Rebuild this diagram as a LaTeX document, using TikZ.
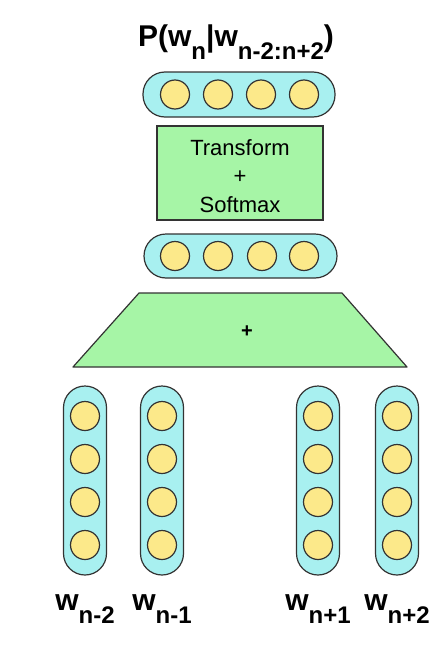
\documentclass[tikz,border=0pt]{standalone}
\usepackage{fontspec}
\setmainfont{Liberation Sans}
\begin{document}
\begin{tikzpicture}[x=1pt,y=-1pt,
  pill/.style={draw=black!80, line width=1.2pt, fill=pillcyan},
  unit/.style={circle, draw=black!80, line width=1.2pt, fill=unityellow, minimum size=29pt, inner sep=0pt},
  layer/.style={draw=black!80, line width=1.2pt, fill=layergreen},
  bigtxt/.style={inner sep=0pt, anchor=base},
]
\definecolor{pillcyan}{HTML}{A8F0F0}
\definecolor{unityellow}{HTML}{FCE98A}
\definecolor{layergreen}{HTML}{A6F5A6}
\useasboundingbox (0,0) rectangle (442,645);
\fill[white] (0,0) rectangle (442,645);

% title
\node[bigtxt] (title) at (236,46) {\bfseries\fontsize{30}{30}\selectfont P(w\raisebox{-13pt}{\fontsize{24}{24}\selectfont n}|w\raisebox{-13pt}{\fontsize{24}{24}\selectfont n-2:n+2})};

% top output vector
\draw[pill, rounded corners=22pt] (143,72) rectangle (335,117);
\node[unit] (o1) at (175,94.5) {};
\node[unit] (o2) at (218,94.5) {};
\node[unit] (o3) at (261,94.5) {};
\node[unit] (o4) at (304,94.5) {};

% transform + softmax box
\draw[layer] (157,126) rectangle (323,220);
\node[inner sep=0pt, align=center, font=\fontsize{22}{28.5}\selectfont] (tf) at (240,176) {Transform\\+\\Softmax};

% hidden vector
\draw[pill, rounded corners=22pt] (144,234) rectangle (337,278);
\node[unit] (h1) at (175,256) {};
\node[unit] (h2) at (218,256) {};
\node[unit] (h3) at (262,256) {};
\node[unit] (h4) at (304,256) {};

% sum trapezoid
\draw[layer, line join=round] (139,293) -- (342,293) -- (407,367) -- (73,367) -- cycle;
\node[font=\bfseries\fontsize{20}{20}\selectfont, inner sep=0pt] (plus) at (247,332) {+};

% input vectors
\foreach \c/\n in {85/a,162/b,318/c,397/d}{
  \draw[pill, rounded corners=21.5pt] (\c-21.5,386) rectangle (\c+21.5,575);
  \node[unit] (\n1) at (\c,416) {};
  \node[unit] (\n2) at (\c,459) {};
  \node[unit] (\n3) at (\c,502) {};
  \node[unit] (\n4) at (\c,545) {};
}

% labels
\node[bigtxt] (la) at (85,610) {\bfseries\fontsize{30}{30}\selectfont w\raisebox{-13pt}{\fontsize{24}{24}\selectfont n-2}};
\node[bigtxt] (lb) at (162,610) {\bfseries\fontsize{30}{30}\selectfont w\raisebox{-13pt}{\fontsize{24}{24}\selectfont n-1}};
\node[bigtxt] (lc) at (318,610) {\bfseries\fontsize{30}{30}\selectfont w\raisebox{-13pt}{\fontsize{24}{24}\selectfont n+1}};
\node[bigtxt] (ld) at (397,610) {\bfseries\fontsize{30}{30}\selectfont w\raisebox{-13pt}{\fontsize{24}{24}\selectfont n+2}};
\end{tikzpicture}
\end{document}
